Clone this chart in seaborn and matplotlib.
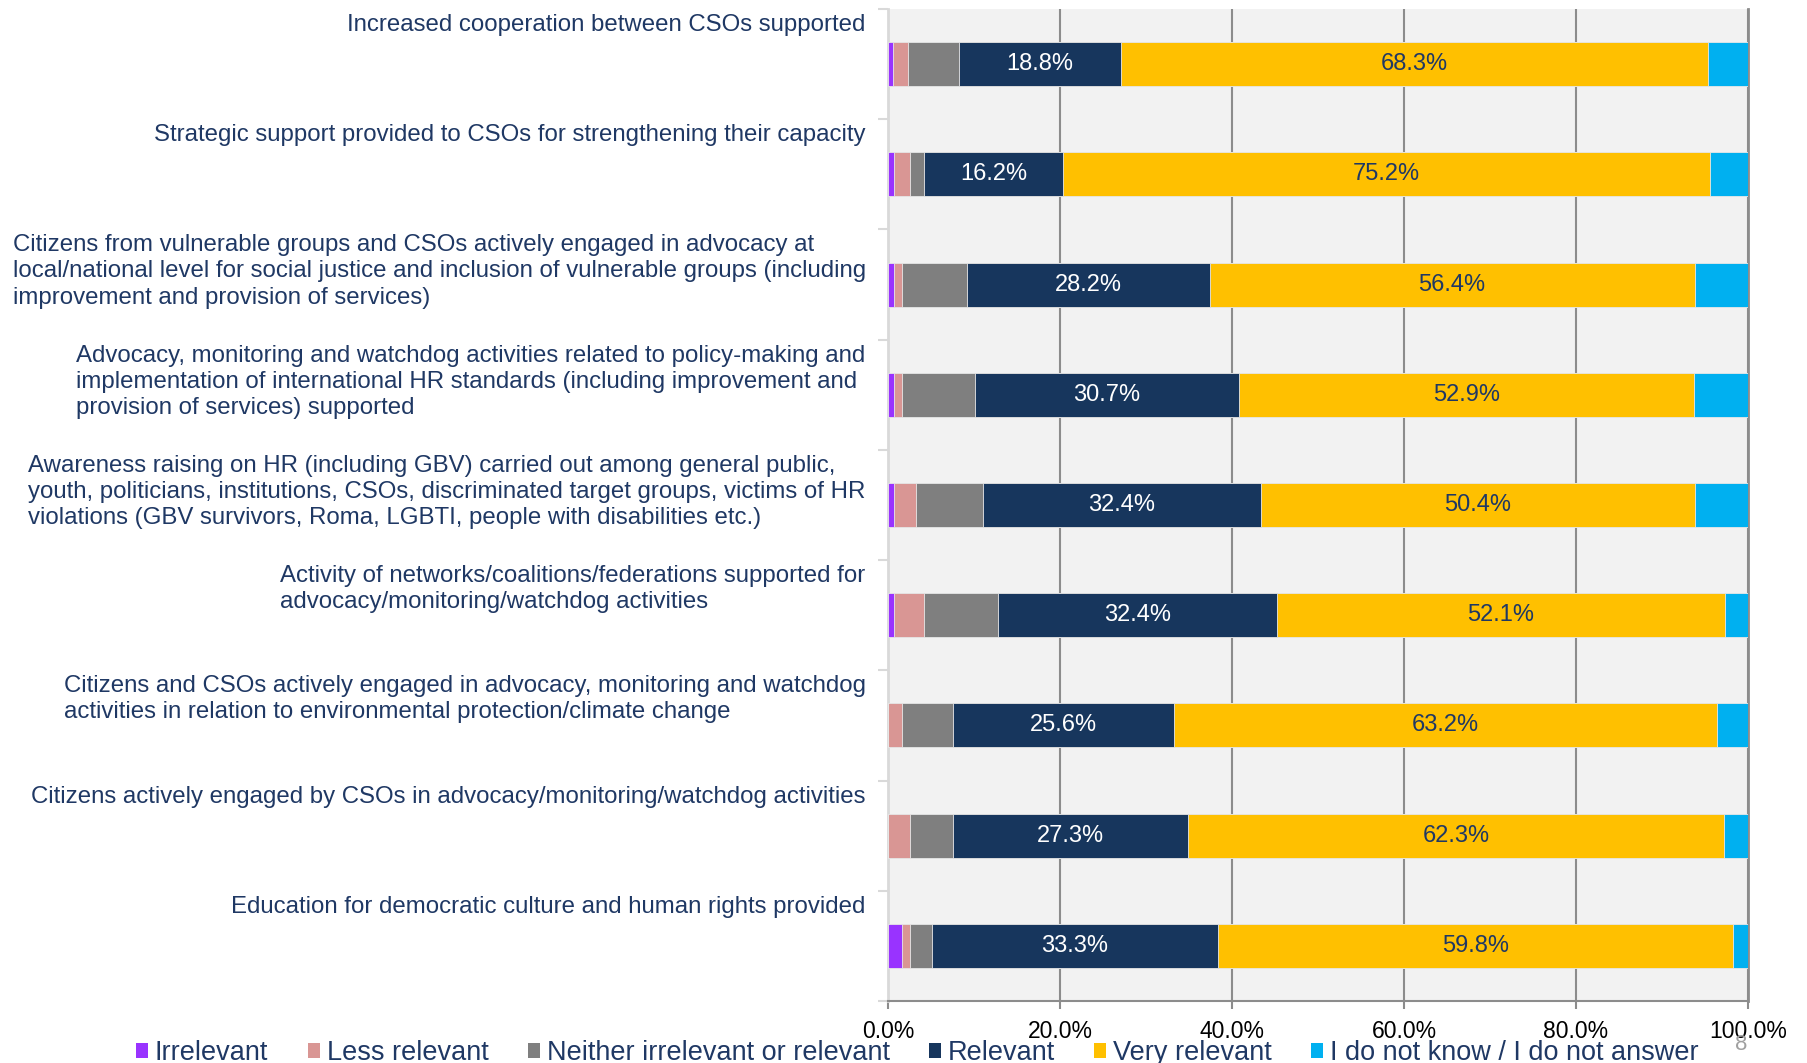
import numpy as np
import pandas as pd
import seaborn as sns
import matplotlib.pyplot as plt
from matplotlib.patches import Patch

# Kategorien (von oben nach unten)
categories = [
    "Increased cooperation between CSOs supported",
    "Strategic support provided to CSOs for strengthening their capacity",
    "Citizens from vulnerable groups and CSOs actively engaged in advocacy at\n"
    "local/national level for social justice and inclusion of vulnerable groups (including\n"
    "improvement and provision of services)",
    "Advocacy, monitoring and watchdog activities related to policy-making and\n"
    "implementation of international HR standards (including improvement and\n"
    "provision of services) supported",
    "Awareness raising on HR (including GBV) carried out among general public,\n"
    "youth, politicians, institutions, CSOs, discriminated target groups, victims of HR\n"
    "violations (GBV survivors, Roma, LGBTI, people with disabilities etc.)",
    "Activity of networks/coalitions/federations supported for\n"
    "advocacy/monitoring/watchdog activities",
    "Citizens and CSOs actively engaged in advocacy, monitoring and watchdog\n"
    "activities in relation to environmental protection/climate change",
    "Citizens actively engaged by CSOs in advocacy/monitoring/watchdog activities",
    "Education for democratic culture and human rights provided",
]

series_names = ["Irrelevant", "Less relevant", "Neither irrelevant or relevant",
                "Relevant", "Very relevant", "I do not know / I do not answer"]

irrelevant = [0.6, 0.7, 0.7, 0.7, 0.7, 0.7, 0.0, 0.0, 1.6]
less_relevant = [1.7, 1.8, 0.9, 0.9, 2.6, 3.5, 1.6, 2.5, 0.9]
neither = [6.0, 1.7, 7.6, 8.5, 7.7, 8.6, 6.0, 5.1, 2.6]
relevant = [18.8, 16.2, 28.2, 30.7, 32.4, 32.4, 25.6, 27.3, 33.3]
very_relevant = [68.3, 75.2, 56.4, 52.9, 50.4, 52.1, 63.2, 62.3, 59.8]
dont_know = [4.6, 4.4, 6.2, 6.3, 6.2, 2.7, 3.6, 2.8, 1.8]

colors = ["#9933FF", "#D99694", "#7F7F7F", "#17365D", "#FFC000", "#00B0F0"]
NAVY = "#1F3864"

df = pd.DataFrame({
    "Kategorie": categories,
    series_names[0]: irrelevant,
    series_names[1]: less_relevant,
    series_names[2]: neither,
    series_names[3]: relevant,
    series_names[4]: very_relevant,
    series_names[5]: dont_know,
})
cum = df[series_names].cumsum(axis=1)

plt.rcParams["font.family"] = ["Liberation Sans", "DejaVu Sans"]
fig = plt.figure(figsize=(18.07, 10.63), dpi=100)
ax = fig.add_axes([888 / 1807, 1 - 1001 / 1063, (1748 - 888) / 1807, (1001 - 9) / 1063])
ax.set_facecolor("#F2F2F2")

# gestapelte Balken: kumulierte Summen von hinten nach vorne zeichnen
for name, col in reversed(list(zip(series_names, colors))):
    sns.barplot(x=cum[name], y=df["Kategorie"], orient="h", color=col, saturation=1,
                width=0.4, ax=ax, edgecolor="#E8E8E8", linewidth=0.6, zorder=3)

# Prozentwerte in Relevant / Very relevant
for i in range(len(categories)):
    start = cum[series_names[2]][i]
    ax.text(start + relevant[i] / 2, i, f"{relevant[i]:.1f}%", ha="center", va="center",
            color="white", fontsize=17, zorder=5)
    start = cum[series_names[3]][i]
    ax.text(start + very_relevant[i] / 2, i, f"{very_relevant[i]:.1f}%", ha="center",
            va="center", color=NAVY, fontsize=17, zorder=5)

ax.set_xlim(0, 100)
ax.set_ylim(len(categories) - 0.5, -0.5)
ax.set_xticks([0, 20, 40, 60, 80, 100])
ax.set_xticklabels([f"{v:.1f}%" for v in [0, 20, 40, 60, 80, 100]], fontsize=16.5)
ax.grid(axis="x", color="#8C8C8C", linewidth=1.5, zorder=1)
ax.grid(axis="y", visible=False)
ax.set_axisbelow(True)

# y-Achse: Ticks an den Grenzen, Labels oben in jedem Feld
ax.set_yticks(np.arange(len(categories) + 1) - 0.5)
ax.set_yticklabels([])
ax.tick_params(axis="y", length=7, color="#D9D9D9", width=1.5)
ax.tick_params(axis="x", length=6, color="#8C8C8C", width=1.5, pad=8)
ax.set_xlabel("")
ax.set_ylabel("")
for i, cat in enumerate(categories):
    ax.text(-0.026, i - 0.455, cat, transform=ax.get_yaxis_transform(), ha="right",
            va="top", multialignment="left", fontsize=17.3, color=NAVY, linespacing=1.24)

ax.spines["top"].set_visible(False)
ax.spines["left"].set_color("#D9D9D9")
ax.spines["left"].set_linewidth(2)
ax.spines["right"].set_color("#8C8C8C")
ax.spines["right"].set_linewidth(2)
ax.spines["bottom"].set_color("#8C8C8C")
ax.spines["bottom"].set_linewidth(1.5)

handles = [Patch(facecolor=c, label=n) for n, c in zip(series_names, colors)]
leg = fig.legend(handles=handles, loc="center left", bbox_to_anchor=(136 / 1807, 1 - 1053 / 1063),
                 ncol=6, frameon=False, fontsize=19.5, handlelength=0.45, handleheight=0.5,
                 handletextpad=0.25, columnspacing=1.45, borderaxespad=0, borderpad=0)
for t in leg.get_texts():
    t.set_color(NAVY)

# Foliennummer
fig.text(1741 / 1807, 1 - 1044 / 1063, "8", fontsize=16, color="#A0A0A0", ha="center", va="center")

fig.savefig("out.png", dpi=100)
